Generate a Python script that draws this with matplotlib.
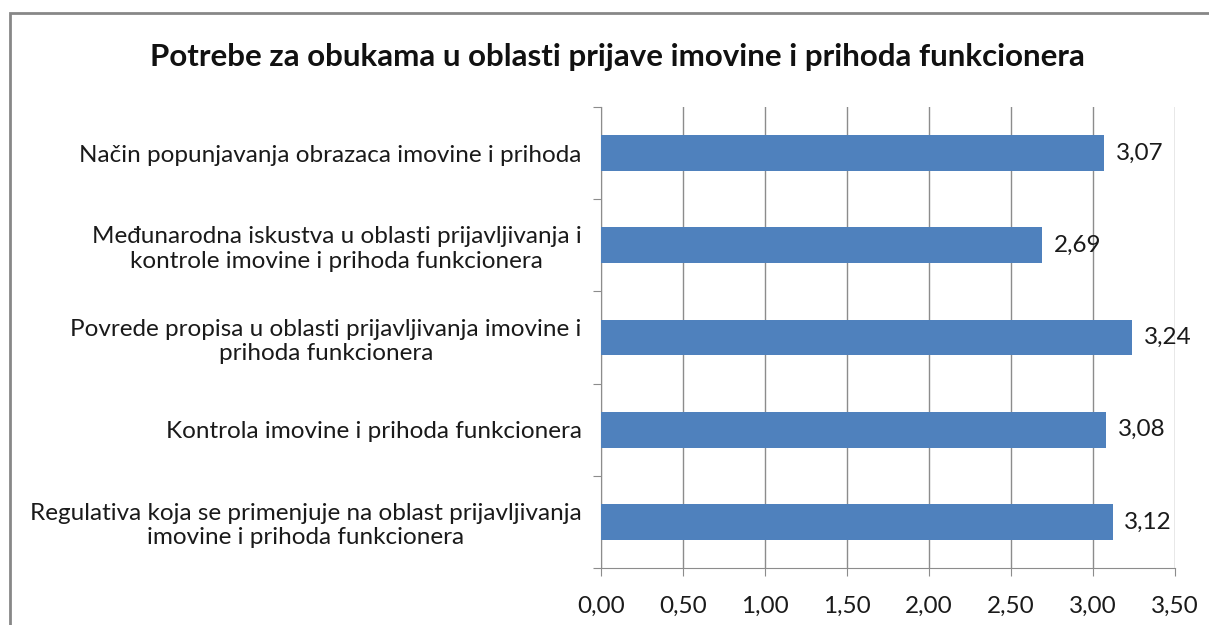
import matplotlib.pyplot as plt
from matplotlib.patches import Rectangle
import numpy as np

plt.rcParams['font.family'] = ['Lato', 'DejaVu Sans']

TITLE = "Potrebe za obukama u oblasti prijave imovine i prihoda funkcionera"
categories = [
    "Način popunjavanja obrazaca imovine i prihoda",
    "Međunarodna iskustva u oblasti prijavljivanja i\nkontrole imovine i prihoda funkcionera",
    "Povrede propisa u oblasti prijavljivanja imovine i\nprihoda funkcionera",
    "Kontrola imovine i prihoda funkcionera",
    "Regulativa koja se primenjuje na oblast prijavljivanja\nimovine i prihoda funkcionera",
]
values = [3.07, 2.69, 3.24, 3.08, 3.12]
xticks = [0.0, 0.5, 1.0, 1.5, 2.0, 2.5, 3.0, 3.5]

BAR = "#4f81bd"
GRID = "#8c8c8c"


def main():
    fig = plt.figure(figsize=(12.09, 6.25), dpi=100)
    ax = fig.add_axes([601 / 1209, 1 - 568 / 625, 574 / 1209, 461 / 625])

    # outer chart frame (cut off at right/bottom like the screenshot)
    fig.patches.append(Rectangle((10 / 1209, -0.1), 1.2, 1 - 13 / 625 + 0.1,
                                 transform=fig.transFigure, fill=False,
                                 edgecolor="#878787", linewidth=2.0))

    n = len(categories)
    y = np.arange(n)[::-1]
    ax.barh(y, values, height=0.39, color=BAR, zorder=3)

    for yi, v in zip(y, values):
        ax.text(v + 0.07, yi, f"{v:.2f}".replace(".", ","), va="center",
                ha="left", fontsize=17.5, color="#1a1a1a")

    ax.set_xlim(0, 3.5)
    ax.set_ylim(-0.5, n - 0.5)
    ax.set_xticks(xticks)
    ax.set_xticklabels([f"{t:.2f}".replace(".", ",") for t in xticks],
                       fontsize=17.5, color="#1a1a1a")
    ax.xaxis.grid(True, color=GRID, linewidth=1.0, zorder=0)

    # category boundaries as major ticks, labels on minor ticks
    ax.set_yticks(np.arange(-0.5, n, 1.0))
    ax.set_yticklabels([])
    ax.set_yticks(y, minor=True)
    ax.set_yticklabels(categories, minor=True, fontsize=17.5,
                       color="#1a1a1a", multialignment="center",
                       linespacing=1.2)
    ax.tick_params(axis="y", which="minor", length=0, pad=14)
    ax.tick_params(axis="y", which="major", length=6, color=GRID)
    ax.tick_params(axis="x", length=6, color=GRID, pad=14)

    for s in ["top", "right"]:
        ax.spines[s].set_visible(False)
    ax.spines["left"].set_color(GRID)
    ax.spines["bottom"].set_color(GRID)

    fig.text(617 / 1209, 1 - 57 / 625, TITLE, ha="center", va="center",
             fontsize=22.5, fontweight="bold", color="#111111")

    plt.savefig("out.png", dpi=100)
    plt.close(fig)


if __name__ == "__main__":
    main()
